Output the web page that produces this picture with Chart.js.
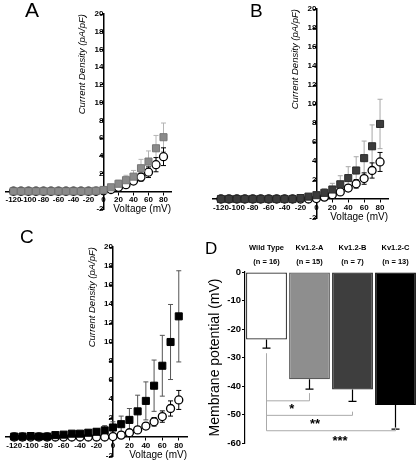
<!DOCTYPE html>
<html>
<head>
<meta charset="utf-8">
<script src="https://cdn.jsdelivr.net/npm/chart.js@4.4.1/dist/chart.umd.min.js"></script>
<style>
  html, body { margin: 0; padding: 0; background: #fff; }
  #fig { position: relative; width: 417px; height: 467px; overflow: hidden; font-family: 'Liberation Sans', Arial, sans-serif; }
  .panel { position: absolute; }
  .letter { position: absolute; color: #000; line-height: 1; }
</style>
</head>
<body>
<div id="fig">
  <div class="panel" style="left:0;top:0;width:207px;height:216px"><canvas id="chartA"></canvas></div>
  <div class="panel" style="left:207px;top:0;width:210px;height:230px"><canvas id="chartB"></canvas></div>
  <div class="panel" style="left:0;top:215px;width:207px;height:252px"><canvas id="chartC"></canvas></div>
  <div class="panel" style="left:207px;top:230px;width:210px;height:237px"><canvas id="chartD"></canvas></div>
  <div class="letter" style="left:25px;top:-1px;font-size:21px">A</div>
  <div class="letter" style="left:250px;top:1px;font-size:19px">B</div>
  <div class="letter" style="left:20px;top:227px;font-size:19px">C</div>
  <div class="letter" style="left:205px;top:240px;font-size:17px">D</div>
</div>
<script>
// I-V curves (current density, pA/pF)
const voltages = [-120, -110, -100, -90, -80, -70, -60, -50, -40, -30, -20, -10, 0, 10, 20, 30, 40, 50, 60, 70, 80];
const xTicks = [-120, -100, -80, -60, -40, -20, 0, 20, 40, 60, 80];
const yTicks = [-2, 2, 4, 6, 8, 10, 12, 14, 16, 18, 20];

const wtMean = [0, 0, 0, 0, 0, 0, 0, 0, 0, 0, 0, 0, 0.05, 0.2, 0.45, 0.75, 1.15, 1.6, 2.15, 3.0, 3.9];
const wtErr  = [0, 0, 0, 0, 0, 0, 0, 0, 0, 0, 0, 0, 0.05, 0.1, 0.15, 0.25, 0.35, 0.45, 0.6, 0.8, 1.0];

const kvAMean = [0, 0, 0, 0, 0, 0, 0, 0, 0, 0, 0, 0.05, 0.15, 0.45, 0.85, 1.25, 1.65, 2.6, 3.35, 4.85, 6.1];
const kvAErr  = [0, 0, 0, 0, 0, 0, 0, 0, 0, 0, 0, 0.05, 0.1, 0.25, 0.4, 0.55, 0.7, 1.0, 1.2, 1.45, 1.6];

const kvBMean = [0, 0, 0, 0, 0, 0, 0, 0, 0, 0, 0.1, 0.25, 0.4, 0.65, 1.0, 1.55, 2.2, 3.0, 4.3, 5.55, 7.9];
const kvBErr  = [0, 0, 0, 0, 0, 0, 0, 0, 0, 0, 0.05, 0.1, 0.35, 0.45, 0.65, 0.9, 1.2, 1.45, 1.8, 2.25, 2.6];

const kvCMean = [0.05, 0.05, 0.1, 0.05, 0.05, 0.2, 0.25, 0.35, 0.35, 0.45, 0.55, 0.7, 1.0, 1.35, 1.8, 2.7, 3.8, 5.4, 7.5, 10.0, 12.7];
const kvCErr  = [0, 0, 0, 0, 0, 0.05, 0.1, 0.1, 0.15, 0.2, 0.3, 0.5, 0.6, 0.85, 1.2, 1.7, 2.0, 2.7, 3.2, 3.95, 4.8];

// resting membrane potential (mV)
const groups = [['Wild Type', '(n = 16)'], ['Kv1.2-A', '(n = 15)'], ['Kv1.2-B', '(n = 7)'], ['Kv1.2-C', '(n = 13)']];
const restMean = [-23.7, -37.6, -41.2, -46.7];
const restErr = [3.0, 3.5, 4.2, 8.4];
const restTicks = [0, -10, -20, -30, -40, -50, -60];

// significance brackets: wild type vs group index
const sigPairs = [
  { to: 1, level: -45.2, end: -42.5, stars: '*', starX: 0.59, starY: -48.3 },
  { to: 2, level: -50.3, end: -49.0, stars: '**', starX: 1.13, starY: -53.4 },
  { to: 3, level: -55.7, end: -54.5, stars: '***', starX: 1.71, starY: -59.4 }
];

Chart.defaults.font.family = "'Liberation Sans', Arial, sans-serif";
Chart.defaults.color = '#000';

const noPad = s => { s.paddingLeft = 0; s.paddingRight = 0; s.paddingTop = 0; s.paddingBottom = 0; };
const tickFont = { size: 8, weight: 'bold', lineHeight: 1 };

const errorBars = {
  id: 'errorBars',
  beforeDatasetsDraw(chart) {
    const { ctx, scales: { x, y } } = chart;
    ctx.save();
    chart.data.datasets.forEach(ds => {
      if (!ds.errors) return;
      ctx.strokeStyle = ds.errorColor;
      ctx.lineWidth = 1;
      ds.data.forEach((p, j) => {
        const e = ds.errors[j];
        if (!e) return;
        const px = x.getPixelForValue(p.x);
        const top = y.getPixelForValue(p.y + e);
        const bot = y.getPixelForValue(p.y - e);
        ctx.beginPath();
        ctx.moveTo(px, top); ctx.lineTo(px, bot);
        ctx.moveTo(px - 2.5, top); ctx.lineTo(px + 2.5, top);
        ctx.moveTo(px - 2.5, bot); ctx.lineTo(px + 2.5, bot);
        ctx.stroke();
      });
    });
    ctx.restore();
  }
};

// y title of the centred axis, reading bottom-to-top, ending at the top of the axis
const yTitle = {
  id: 'yTitle',
  afterDraw(chart) {
    const { ctx, scales: { x, y } } = chart;
    ctx.save();
    ctx.translate(x.getPixelForValue(0) - 21, y.top);
    ctx.rotate(-Math.PI / 2);
    ctx.font = "italic 9.5px 'Liberation Sans', Arial, sans-serif";
    ctx.fillStyle = '#000';
    ctx.textAlign = 'right';
    ctx.textBaseline = 'middle';
    ctx.fillText('Current Density (pA/pF)', 0, 0);
    ctx.restore();
  }
};

function ivPanel(id, mean, err, fill, edge, errColor, pad) {
  return new Chart(document.getElementById(id), {
    type: 'scatter',
    data: {
      datasets: [
        {
          label: 'Kv1.2',
          data: voltages.map((v, i) => ({ x: v, y: mean[i] })),
          errors: err, errorColor: errColor,
          pointStyle: 'rect', pointRadius: 5, pointHoverRadius: 5,
          backgroundColor: fill, borderColor: edge, borderWidth: 1
        },
        {
          label: 'Wild Type',
          data: voltages.map((v, i) => ({ x: v, y: wtMean[i] })),
          errors: wtErr, errorColor: '#000',
          pointStyle: 'circle', pointRadius: 4, pointHoverRadius: 4,
          backgroundColor: '#fff', borderColor: '#000', borderWidth: 1.3
        }
      ]
    },
    options: {
      responsive: true,
      maintainAspectRatio: false,
      animation: false,
      layout: { padding: pad },
      plugins: { legend: { display: false }, tooltip: { enabled: false } },
      scales: {
        x: {
          type: 'linear', min: -130, max: 90, position: { y: 0 },
          afterBuildTicks: s => { s.ticks = xTicks.map(v => ({ value: v })); },
          afterFit: noPad,
          grid: { drawOnChartArea: false, color: '#000', tickLength: 3 },
          border: { color: '#000', width: 1.5 },
          ticks: { font: tickFont, padding: 2, autoSkip: false, minRotation: 0, maxRotation: 0 },
          title: { display: true, text: 'Voltage (mV)', align: 'end', font: { size: 10 }, padding: { top: -3, bottom: 0 } }
        },
        y: {
          type: 'linear', min: -2, max: 20, position: { x: 0 },
          afterBuildTicks: s => { s.ticks = yTicks.map(v => ({ value: v })); },
          afterFit: noPad,
          grid: { drawOnChartArea: false, color: '#000', tickLength: 3 },
          border: { color: '#000', width: 1.5 },
          ticks: { font: tickFont, padding: 2 }
        }
      }
    },
    plugins: [errorBars, yTitle]
  });
}

ivPanel('chartA', kvAMean, kvAErr, '#8a8a8a', '#777', '#b4b4b4', { left: 0, right: 36, top: 14, bottom: 7 });
ivPanel('chartB', kvBMean, kvBErr, '#3c3c3c', '#2a2a2a', '#a8a8a8', { left: 0, right: 29, top: 9, bottom: 12 });
ivPanel('chartC', kvCMean, kvCErr, '#000', '#000', '#555', { left: 0, right: 20, top: 32, bottom: 11 });

const barExtras = {
  id: 'barExtras',
  afterDatasetsDraw(chart) {
    const { ctx, scales: { x, y } } = chart;
    ctx.save();
    // error bars (downward only)
    ctx.strokeStyle = '#000';
    ctx.lineWidth = 1.2;
    restMean.forEach((m, i) => {
      const px = x.getPixelForValue(i);
      const y0 = y.getPixelForValue(m);
      const y1 = y.getPixelForValue(m - restErr[i]);
      ctx.beginPath();
      ctx.moveTo(px, y0); ctx.lineTo(px, y1);
      ctx.moveTo(px - 4, y1); ctx.lineTo(px + 4, y1);
      ctx.stroke();
    });
    // significance brackets
    const x0 = x.getPixelForValue(0);
    ctx.strokeStyle = '#aaa';
    ctx.lineWidth = 1;
    ctx.beginPath();
    ctx.moveTo(x0, y.getPixelForValue(-28.5));
    ctx.lineTo(x0, y.getPixelForValue(sigPairs[sigPairs.length - 1].level));
    sigPairs.forEach(p => {
      const xe = x.getPixelForValue(p.to);
      ctx.moveTo(x0, y.getPixelForValue(p.level));
      ctx.lineTo(xe, y.getPixelForValue(p.level));
      ctx.lineTo(xe, y.getPixelForValue(p.end));
    });
    ctx.stroke();
    ctx.fillStyle = '#000';
    ctx.font = "bold 13px 'Liberation Sans', Arial, sans-serif";
    ctx.textAlign = 'center';
    ctx.textBaseline = 'middle';
    sigPairs.forEach(p => {
      ctx.fillText(p.stars, x.getPixelForValue(p.starX), y.getPixelForValue(p.starY));
    });
    ctx.restore();
  }
};

new Chart(document.getElementById('chartD'), {
  type: 'bar',
  data: {
    labels: groups,
    datasets: [{
      label: 'Membrane potential',
      data: restMean,
      backgroundColor: ['#ffffff', '#8e8e8e', '#3e3e3e', '#000000'],
      borderColor: ['#222', '#5a5a5a', '#222', '#000'],
      borderWidth: 1.2,
      borderSkipped: false,
      barPercentage: 0.95,
      categoryPercentage: 1
    }]
  },
  options: {
    responsive: true,
    maintainAspectRatio: false,
    animation: false,
    layout: { padding: { left: 0, right: 0, top: 0, bottom: 24 } },
    plugins: { legend: { display: false }, tooltip: { enabled: false } },
    scales: {
      x: {
        position: 'top',
        afterFit: s => { s.height = 42; noPad(s); },
        grid: { display: false, drawTicks: false },
        border: { display: false },
        ticks: { font: { size: 7.5, weight: 'bold', lineHeight: '14px' }, padding: 3, maxRotation: 0, autoSkip: false }
      },
      y: {
        min: -60, max: 0,
        afterBuildTicks: s => { s.ticks = restTicks.map(v => ({ value: v })); },
        afterFit: s => { s.width = 38; noPad(s); },
        grid: { drawOnChartArea: false, color: '#000', tickLength: 3 },
        border: { color: '#000', width: 1.2 },
        ticks: { font: { size: 9.5, weight: 'bold' }, padding: 1 },
        title: { display: true, text: 'Membrane potential (mV)', font: { size: 14 }, padding: 0 }
      }
    }
  },
  plugins: [barExtras]
});
</script>
</body>
</html>
